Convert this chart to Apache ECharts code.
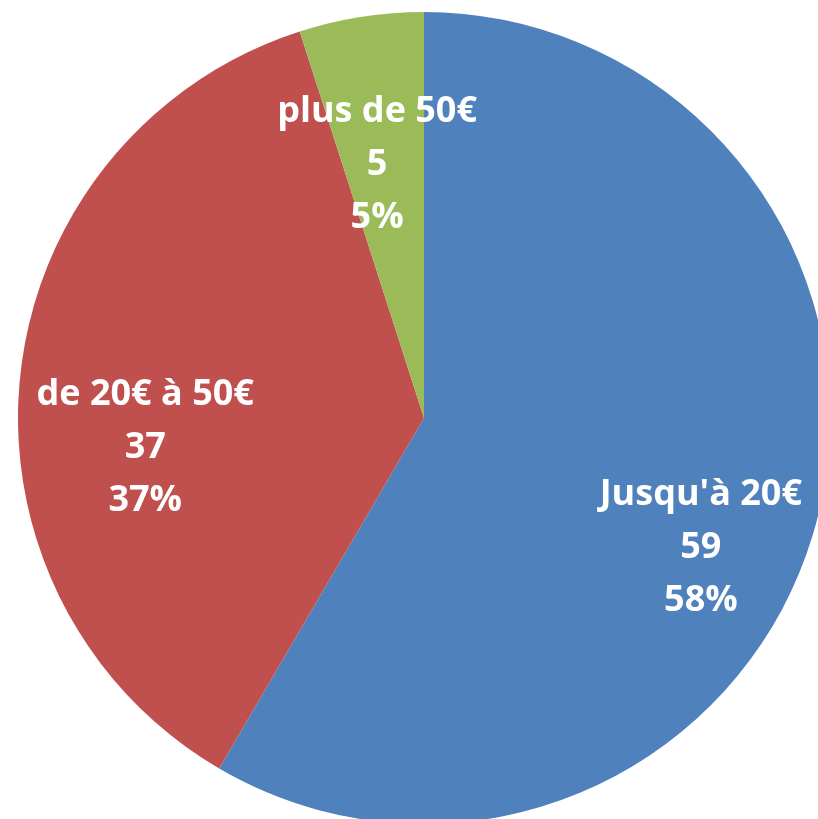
<!DOCTYPE html>
<html>
<head>
<meta charset="utf-8">
<script src="https://cdn.jsdelivr.net/npm/echarts@6/dist/echarts.min.js"></script>
<style>
  html, body { margin: 0; padding: 0; background: #fff; }
  #chart { width: 818px; height: 819px; }
</style>
</head>
<body>
<div id="chart"></div>
<script>
// Répartition des montants
const categories = ["Jusqu'à 20€", "de 20€ à 50€", "plus de 50€"];
const counts = [59, 37, 5];
const colors = ['#4F81BD', '#C0504D', '#9BBB59'];
// Nudges of each inside label away from its default spot on the slice
const labelOffsets = [[78, 76], [-74, 52], [-15, -50]];

const chart = echarts.init(document.getElementById('chart'), null, { renderer: 'canvas' });

chart.setOption({
  animation: false,
  series: [{
    type: 'pie',
    center: [424, 418],
    radius: 406,
    startAngle: 90,
    clockwise: true,
    percentPrecision: 0,
    avoidLabelOverlap: false,
    emphasis: { disabled: true },
    itemStyle: { borderWidth: 0 },
    label: {
      show: true,
      position: 'inside',
      formatter: '{b}\n{c}\n{d}%',
      color: '#ffffff',
      fontFamily: 'Open Sans',
      fontWeight: 'bold',
      fontSize: 36,
      lineHeight: 53,
      align: 'center',
      textBorderWidth: 0
    },
    labelLine: { show: false },
    data: categories.map((name, i) => ({
      name: name,
      value: counts[i],
      itemStyle: { color: colors[i] },
      label: { offset: labelOffsets[i] }
    }))
  }]
});
</script>
</body>
</html>
